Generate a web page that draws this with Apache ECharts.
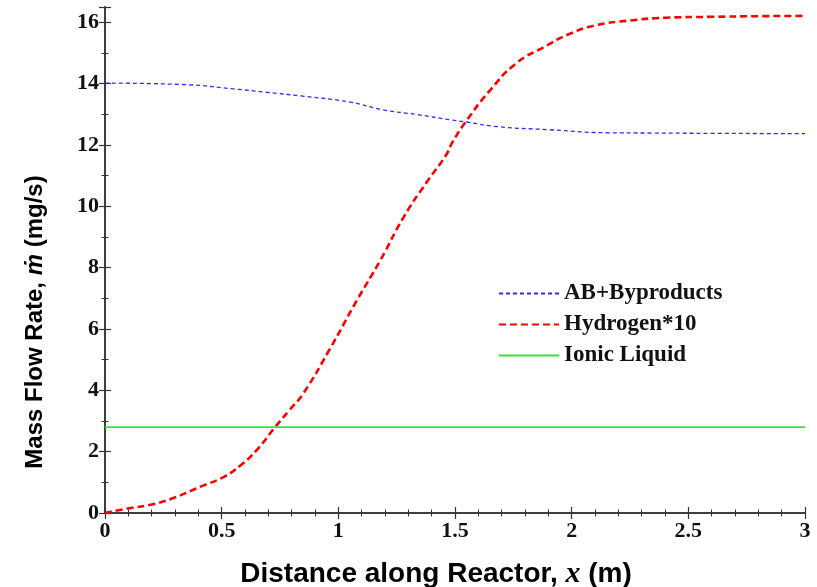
<!DOCTYPE html>
<html>
<head>
<meta charset="utf-8">
<script src="https://cdn.jsdelivr.net/npm/echarts@6/dist/echarts.min.js"></script>
<style>
  html, body { margin: 0; padding: 0; background: #fff; }
  #chart { width: 817px; height: 587px; }
</style>
</head>
<body>
<div id="chart"></div>
<script>
// data
var h2X = [0, 0.1, 0.19, 0.29, 0.41, 0.51, 0.58, 0.65, 0.73, 0.79, 0.85, 0.96, 1.08, 1.18, 1.28, 1.38, 1.46, 1.49, 1.55, 1.65, 1.76, 1.88, 1.99, 2.1, 2.25, 2.4, 2.6, 2.8, 3];
var h2Y = [0, 0.15, 0.26, 0.48, 0.86, 1.18, 1.55, 2.05, 2.81, 3.35, 3.9, 5.3, 6.94, 8.24, 9.65, 10.8, 11.65, 12.1, 12.8, 13.78, 14.65, 15.19, 15.62, 15.9, 16.06, 16.15, 16.18, 16.2, 16.21];

var abX = [0, 0.34, 0.55, 0.69, 0.84, 1.05, 1.19, 1.34, 1.48, 1.55, 1.68, 1.9, 2.15, 2.34, 2.6, 3];
var abY = [14.02, 13.97, 13.83, 13.72, 13.6, 13.4, 13.15, 12.99, 12.82, 12.75, 12.6, 12.5, 12.4, 12.39, 12.38, 12.37];

var ilX = [0, 3];
var ilY = [2.8, 2.8];

var seriesNames = ['AB+Byproducts', 'Hydrogen*10', 'Ionic Liquid'];

function pairs(xs, ys) {
  return xs.map(function (x, i) { return [x, ys[i]]; });
}

var serif = 'Liberation Serif';
var sans = 'Liberation Sans';

var chart = echarts.init(document.getElementById('chart'), null, {renderer: 'canvas'});

var axisLine = {show: true, lineStyle: {color: '#333', width: 1.5}};
var axisTick = {show: true, inside: true, length: 6, lineStyle: {color: '#333', width: 1.2}};
var minorX = {show: true, splitNumber: 5, length: 3.5, lineStyle: {color: '#333', width: 1}};
var minorY = {show: true, splitNumber: 2, length: 3.5, lineStyle: {color: '#333', width: 1}};

var option = {
  animation: false,
  backgroundColor: '#fff',
  grid: {left: 105, right: 12, top: 7, bottom: 74, containLabel: false, outerBoundsMode: 'none'},
  legend: {
    show: true,
    orient: 'vertical',
    left: 498,
    top: 282,
    padding: 0,
    itemWidth: 60,
    itemHeight: 14,
    itemGap: 8,
    data: seriesNames,
    itemStyle: {opacity: 0},
    textStyle: {fontFamily: serif, fontWeight: 'bold', fontSize: 23, color: '#111'}
  },
  xAxis: [
    {
      type: 'value', min: 0, max: 3, interval: 0.5,
      axisLine: axisLine, axisTick: axisTick, minorTick: minorX,
      splitLine: {show: false},
      axisLabel: {fontFamily: serif, fontWeight: 'bold', fontSize: 22, color: '#111', margin: 7},
      name: '{a|Distance along Reactor, }{i|x}{a| (m)}',
      nameLocation: 'middle',
      nameGap: 46,
      nameTextStyle: {
        padding: [0, 38, 0, 0],
        rich: {
          a: {fontFamily: sans, fontWeight: 'bold', fontSize: 28, color: '#000'},
          i: {fontFamily: serif, fontStyle: 'italic', fontWeight: 'bold', fontSize: 30, color: '#000'}
        }
      }
    },
    {
      type: 'value', min: 0, max: 3, interval: 0.5, position: 'top',
      axisLine: axisLine, axisTick: axisTick, minorTick: minorX,
      axisLabel: {show: false}, splitLine: {show: false}
    }
  ],
  yAxis: [
    {
      type: 'value', min: 0, max: 16.5, interval: 2,
      axisLine: axisLine, axisTick: axisTick, minorTick: minorY,
      splitLine: {show: false},
      axisLabel: {
        fontFamily: serif, fontWeight: 'bold', fontSize: 22, color: '#111', margin: 6,
        showMaxLabel: false,
        formatter: function (v) { return v % 2 === 0 ? String(v) : ''; }
      },
      name: '{a|Mass Flow Rate, }{i|ṁ}{a| (mg/s)}',
      nameLocation: 'middle',
      nameGap: 58,
      nameRotate: 90,
      nameTextStyle: {
        padding: [0, 124, 0, 0],
        rich: {
          a: {fontFamily: sans, fontWeight: 'bold', fontSize: 24, color: '#000'},
          i: {fontFamily: sans, fontStyle: 'italic', fontWeight: 'bold', fontSize: 24, color: '#000'}
        }
      }
    },
    {
      type: 'value', min: 0, max: 16.5, interval: 2, position: 'right',
      axisLine: axisLine, axisTick: axisTick, minorTick: minorY,
      axisLabel: {show: false}, splitLine: {show: false}
    }
  ],
  series: [
    {
      name: seriesNames[0],
      type: 'line',
      smooth: true,
      symbol: 'none',
      data: pairs(abX, abY),
      lineStyle: {color: '#2b2bff', width: 1.3, type: [4, 3]},
      itemStyle: {color: '#2b2bff'}
    },
    {
      name: seriesNames[1],
      type: 'line',
      smooth: true,
      symbol: 'none',
      data: pairs(h2X, h2Y),
      lineStyle: {color: '#ff0000', width: 2.6, type: [7, 4]},
      itemStyle: {color: '#ff0000'}
    },
    {
      name: seriesNames[2],
      type: 'line',
      symbol: 'none',
      data: pairs(ilX, ilY),
      lineStyle: {color: '#3be03b', width: 1.8, type: 'solid'},
      itemStyle: {color: '#3be03b'}
    }
  ]
};

chart.setOption(option);
</script>
</body>
</html>
